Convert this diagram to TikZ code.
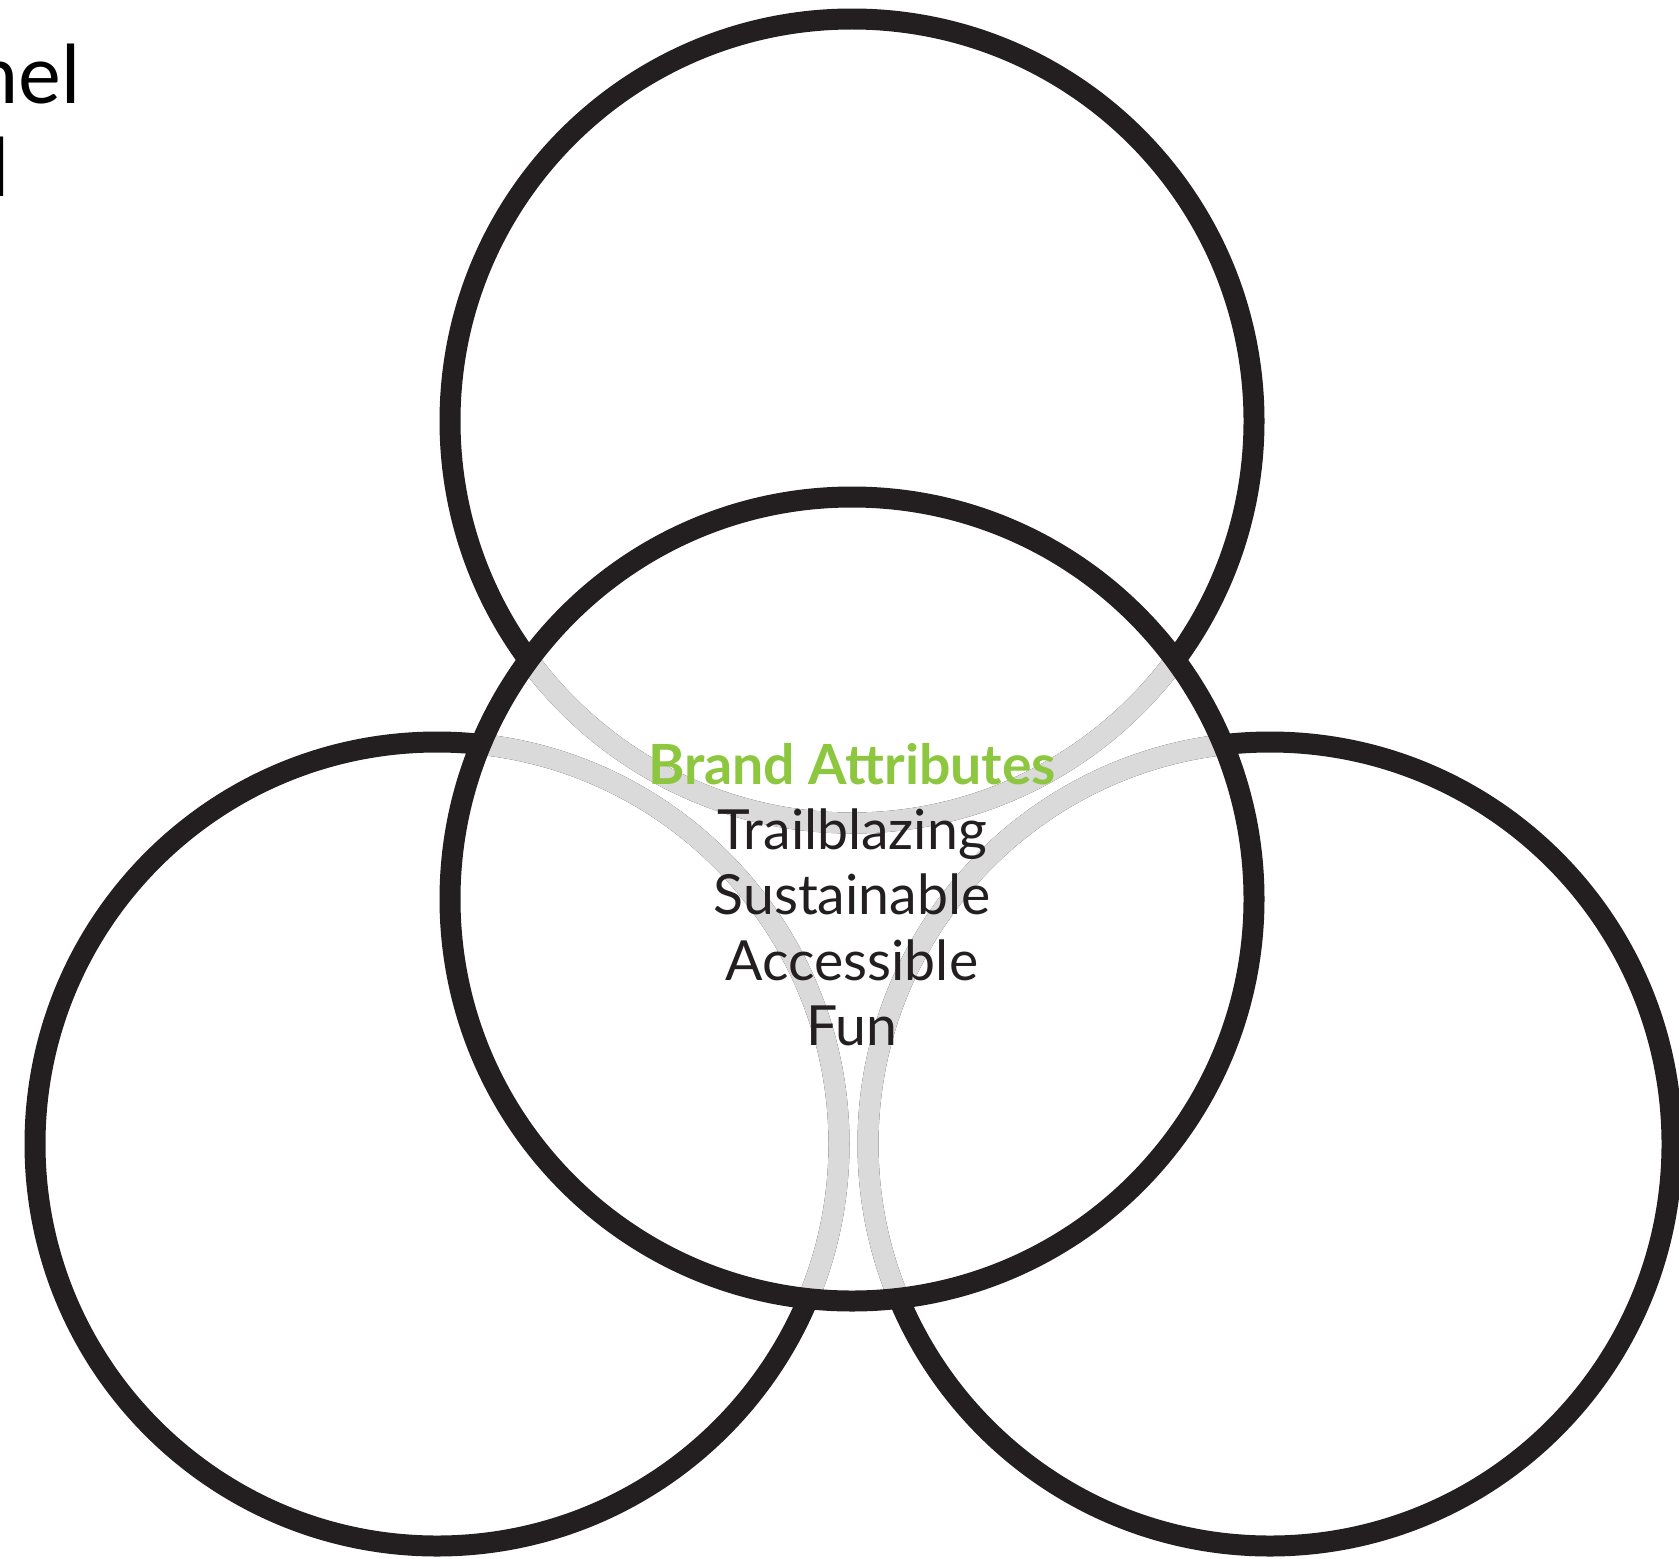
\documentclass[tikz,border=0pt]{standalone}
\usepackage{fontspec}
\setmainfont{Lato}
\definecolor{ringblack}{HTML}{231F20}
\definecolor{ringgrey}{HTML}{DADADA}
\definecolor{brandgreen}{HTML}{8DC63F}
\tikzset{
  ring/.style={draw=ringblack, line width=0.42cm},
  innerring/.style={draw=ringgrey, line width=0.42cm},
  attrtext/.style={align=center, inner sep=0pt, text=ringblack,
    font=\fontsize{31.5}{37}\selectfont},
  cornertext/.style={inner sep=0pt, anchor=base east, text=black,
    font=\fontsize{46}{52}\selectfont}
}
\begin{document}
\begin{tikzpicture}[x=0.02cm,y=-0.02cm]
  \useasboundingbox (0,0) rectangle (1679,1558);
  \coordinate (topc) at (852,421);
  \coordinate (midc) at (852,899);
  \coordinate (leftc) at (437,1144);
  \coordinate (rightc) at (1270,1144);
  % outer rings
  \foreach \c in {topc,leftc,rightc}
    \draw[ring] (\c) circle[radius=402];
  % parts of the outer rings inside the middle one
  \begin{scope}
    \clip (midc) circle[radius=402];
    \foreach \c in {topc,leftc,rightc}
      \draw[innerring] (\c) circle[radius=402];
  \end{scope}
  \draw[ring] (midc) circle[radius=402];
  \node[attrtext, anchor=base] (attrs) at (852,1045)
    {\textcolor{brandgreen}{\bfseries Brand Attributes}\\
     Trailblazing\\ Sustainable\\ Accessible\\ Fun};
  \node[cornertext] (cornerone) at (81,104) {nel};
  \node[cornertext] (cornertwo) at (10,196) {l};
\end{tikzpicture}
\end{document}
